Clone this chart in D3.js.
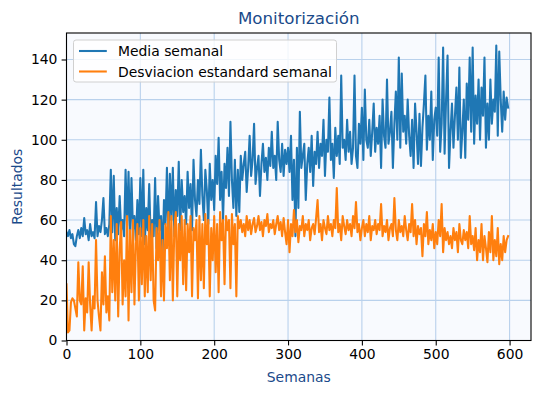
<!DOCTYPE html>
<html>
<head>
<meta charset="utf-8">
<script src="https://cdn.jsdelivr.net/npm/d3@7"></script>
<style>
  body { margin: 0; background: #fff; }
  svg { display: block; font-family: "DejaVu Sans", sans-serif; }
</style>
</head>
<body>
<svg width="540" height="393"></svg>
<script>
/*
Data
*/
// one value every two weeks
var semanas = d3.range(0, 600, 2);

var mediaSemanal = [
    54, 52, 55, 51, 53, 48, 47, 52, 55, 51,
    56, 52, 61, 53, 55, 50, 58, 52, 54, 51,
    69, 52, 57, 54, 60, 71, 53, 56, 52, 58,
    85, 54, 82, 50, 66, 53, 72, 55, 60, 52,
    85, 57, 84, 51, 81, 55, 62, 50, 70, 53,
    81, 52, 85, 48, 66, 55, 78, 50, 60, 52,
    81, 46, 72, 55, 62, 42, 70, 58, 86, 50,
    83, 60, 86, 52, 75, 62, 89, 55, 80, 64,
    72, 58, 84, 66, 78, 55, 90, 70, 62, 80,
    68, 95, 72, 60, 85, 75, 58, 88, 70, 80,
    65, 92, 78, 101, 70, 84, 60, 88, 76, 96,
    72, 109, 80, 66, 90, 62, 85, 64, 92, 80,
    88, 94, 74, 86, 102, 82, 90, 108, 78, 86,
    92, 72, 88, 98, 84, 91, 80, 96, 87, 104,
    86, 92, 80, 109, 90, 84, 98, 82, 95, 88,
    96, 84, 102, 70, 90, 52, 96, 66, 114, 86,
    92, 98, 70, 88, 96, 84, 102, 77, 94, 88,
    104, 86, 98, 92, 110, 82, 100, 94, 121, 90,
    98, 81, 106, 92, 102, 88, 132, 96, 100, 90,
    110, 94, 104, 88, 96, 132, 92, 86, 108, 98,
    116, 90, 125, 100, 96, 110, 92, 104, 118, 94,
    106, 98, 112, 86, 120, 102, 96, 130, 98, 104,
    114, 86, 108, 124, 100, 141, 96, 133, 104, 112,
    98, 120, 102, 92, 110, 86, 118, 104, 88, 113,
    87, 106, 118, 132, 95, 112, 100, 124, 90, 110,
    116, 102, 141, 94, 108, 146, 93, 120, 142, 86,
    104, 118, 96, 112, 126, 100, 136, 91, 104, 120,
    91, 128, 110, 141, 104, 146, 98, 122, 108, 130,
    100, 126, 112, 141, 96, 118, 100, 130, 108, 120,
    114, 147, 102, 144, 120, 104, 124, 110, 121, 116
];

var desviacionSemanal = [
    28, 4, 5, 19, 21, 20, 16, 12, 39, 20,
    18, 37, 5, 21, 14, 39, 18, 5, 22, 16,
    50, 20, 12, 5, 34, 18, 42, 14, 22, 10,
    62, 24, 50, 20, 58, 12, 45, 59, 18, 40,
    22, 62, 10, 55, 24, 60, 18, 48, 58, 20,
    56, 28, 60, 22, 52, 24, 62, 30, 58, 20,
    15, 56, 40, 60, 22, 50, 20, 58, 46, 64,
    30, 62, 20, 56, 64, 22, 58, 40, 62, 28,
    60, 25, 58, 44, 62, 22, 56, 50, 60, 21,
    62, 30, 58, 26, 63, 48, 60, 22, 56, 40,
    62, 34, 58, 24, 64, 50, 60, 28, 62, 55,
    60, 26, 63, 48, 58, 22, 62, 56, 60, 54,
    58, 52, 62, 55, 60, 53, 58, 61, 54, 57,
    62, 55, 59, 52, 60, 57, 63, 54, 58, 56,
    60, 53, 58, 62, 55, 59, 52, 61, 54, 48,
    60, 44, 58, 52, 65, 54, 60, 49, 57, 55,
    62, 52, 58, 55, 60, 50, 56, 58, 53, 61,
    70, 54, 58, 50, 60, 56, 53, 62, 55, 58,
    52, 60, 56, 76, 54, 58, 50, 62, 57, 53,
    60, 55, 58, 52, 62, 56, 69, 54, 58, 50,
    56, 60, 52, 58, 54, 62, 50, 57, 55, 60,
    53, 58, 55, 68, 52, 57, 54, 60, 50, 56,
    58, 52, 71, 55, 50, 60, 54, 57, 52, 62,
    55, 50, 58, 54, 68, 52, 60, 48, 57, 53,
    56, 42, 58, 52, 64, 48, 55, 50, 58, 46,
    54, 48, 60, 52, 68, 44, 56, 50, 54, 48,
    52, 46, 56, 50, 54, 44, 58, 50, 48, 55,
    50, 54, 46, 62, 48, 52, 45, 56, 40, 50,
    44, 58, 40, 52, 46, 39, 54, 44, 62, 40,
    50, 42, 56, 38, 48, 40, 52, 44, 50, 52
];

var xTicks = [0, 100, 200, 300, 400, 500, 600];
var yTicks = [0, 20, 40, 60, 80, 100, 120, 140];

var series = [
    { nombre: "Media semanal", valores: mediaSemanal, color: "#1f77b4" },
    { nombre: "Desviacion estandard semanal", valores: desviacionSemanal, color: "#ff7f0e" }
];

/*
Layout
*/
var svg = d3.select("svg");
var margin = { left: 66.5, right: 531, top: 33, bottom: 340.5 };
var labelBlue = "#1a4a8a";

var x = d3.scaleLinear().domain([0, 629]).range([margin.left, margin.right]);
var y = d3.scaleLinear().domain([0, 153.2]).range([margin.bottom, margin.top]);

// plot background
svg.append("rect")
    .attr("x", margin.left).attr("y", margin.top)
    .attr("width", margin.right - margin.left)
    .attr("height", margin.bottom - margin.top)
    .attr("fill", "#f8fafe");

// grid
var grid = svg.append("g").attr("stroke", "#b9d1ec").attr("stroke-width", 1.1);
grid.selectAll(".gx").data(xTicks).join("line")
    .attr("x1", (d) => x(d)).attr("x2", (d) => x(d))
    .attr("y1", margin.top).attr("y2", margin.bottom);
grid.selectAll(".gy").data(yTicks).join("line")
    .attr("x1", margin.left).attr("x2", margin.right)
    .attr("y1", (d) => y(d)).attr("y2", (d) => y(d));

// lines
var clip = svg.append("clipPath").attr("id", "plot")
    .append("rect")
    .attr("x", margin.left).attr("y", margin.top)
    .attr("width", margin.right - margin.left)
    .attr("height", margin.bottom - margin.top);

var linea = (vals) => d3.line()
    .x((d, i) => x(semanas[i]))
    .y((d) => y(d))(vals);

svg.append("g").attr("clip-path", "url(#plot)")
    .selectAll("path").data(series).join("path")
    .attr("d", (d) => linea(d.valores))
    .attr("fill", "none")
    .attr("stroke", (d) => d.color)
    .attr("stroke-width", 2.08)
    .attr("stroke-linejoin", "round")
    .attr("stroke-linecap", "square");

// axes
var xAxis = svg.append("g")
    .attr("transform", `translate(0,${margin.bottom})`)
    .call(d3.axisBottom(x).tickValues(xTicks).tickSize(4.9).tickPadding(4.2));
var yAxis = svg.append("g")
    .attr("transform", `translate(${margin.left},0)`)
    .call(d3.axisLeft(y).tickValues(yTicks).tickSize(4.9).tickPadding(4.2));

[xAxis, yAxis].forEach((a) => {
    a.select(".domain").remove();
    a.selectAll("line").attr("stroke", "#000").attr("stroke-width", 1.1);
    a.selectAll("text").attr("font-size", "13.9px").attr("fill", "#000")
        .attr("font-family", "DejaVu Sans, sans-serif");
});

// frame
svg.append("rect")
    .attr("x", margin.left).attr("y", margin.top)
    .attr("width", margin.right - margin.left)
    .attr("height", margin.bottom - margin.top)
    .attr("fill", "none").attr("stroke", "#000").attr("stroke-width", 1.1);

// titles
svg.append("text")
    .attr("x", (margin.left + margin.right) / 2).attr("y", 24)
    .attr("text-anchor", "middle").attr("font-size", "16.7px")
    .attr("fill", labelBlue).text("Monitorización");
svg.append("text")
    .attr("x", (margin.left + margin.right) / 2).attr("y", 382)
    .attr("text-anchor", "middle").attr("font-size", "13.9px")
    .attr("fill", labelBlue).text("Semanas");
svg.append("text")
    .attr("transform", `translate(22,${(margin.top + margin.bottom) / 2}) rotate(-90)`)
    .attr("text-anchor", "middle").attr("font-size", "13.9px")
    .attr("fill", labelBlue).text("Resultados");

// legend
var leg = svg.append("g").attr("transform", "translate(73.5,40)");
leg.append("rect")
    .attr("width", 263).attr("height", 42).attr("rx", 2.5)
    .attr("fill", "#fff").attr("fill-opacity", 0.8)
    .attr("stroke", "#d0d0d0").attr("stroke-width", 1);
var items = leg.selectAll(".item").data(series).join("g")
    .attr("transform", (d, i) => `translate(5.5,${11 + i * 20.5})`);
items.append("line")
    .attr("x1", 0).attr("x2", 27.8)
    .attr("stroke", (d) => d.color).attr("stroke-width", 2.08);
items.append("text")
    .attr("x", 39).attr("dy", "0.36em")
    .attr("font-size", "13.9px").attr("fill", "#000")
    .text((d) => d.nombre);
</script>
</body>
</html>
